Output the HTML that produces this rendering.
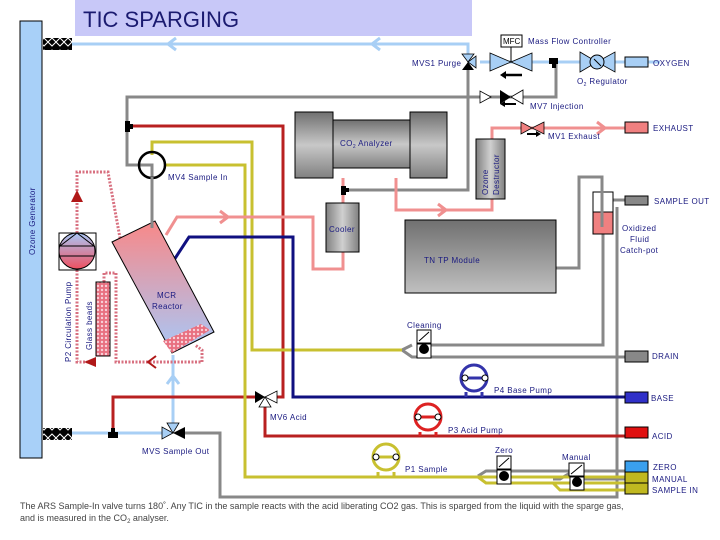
<!DOCTYPE html>
<html><head><meta charset="utf-8"><style>
html,body{margin:0;padding:0;background:#fff;}
svg{display:block;}
text{font-family:"Liberation Sans",sans-serif;}
.l{font-size:8px;fill:#1a1a80;letter-spacing:0.4px;}
</style></head><body>
<svg width="720" height="540" viewBox="0 0 720 540" xmlns="http://www.w3.org/2000/svg">
<defs>
<linearGradient id="gv" x1="0" y1="0" x2="0" y2="1"><stop offset="0" stop-color="#707070"/><stop offset="0.5" stop-color="#c8c8c8"/><stop offset="1" stop-color="#808080"/></linearGradient>
<linearGradient id="gh" x1="0" y1="0" x2="1" y2="0"><stop offset="0" stop-color="#808080"/><stop offset="0.5" stop-color="#d0d0d0"/><stop offset="1" stop-color="#808080"/></linearGradient>
<linearGradient id="gtn" x1="0" y1="0" x2="0" y2="1"><stop offset="0" stop-color="#707070"/><stop offset="1" stop-color="#c0c0c0"/></linearGradient>
<linearGradient id="gr" x1="0" y1="0" x2="0" y2="1"><stop offset="0" stop-color="#f88888"/><stop offset="1" stop-color="#a8c8f8"/></linearGradient>
<linearGradient id="gp" x1="0" y1="0" x2="0" y2="1"><stop offset="0" stop-color="#a8c8f8"/><stop offset="1" stop-color="#f05060"/></linearGradient>
<pattern id="chk" width="4" height="4" patternUnits="userSpaceOnUse"><rect width="4" height="4" fill="#e87080"/><circle cx="2" cy="2" r="1.2" fill="#f8d0d8"/></pattern>
<pattern id="hx" width="8" height="12" patternUnits="userSpaceOnUse"><rect width="8" height="12" fill="#000"/><path d="M0 6 L4 2 L8 6 L4 10 Z" fill="none" stroke="#fff" stroke-width="1"/></pattern>
</defs>

<!-- title -->
<rect x="75" y="0" width="397" height="36" fill="#c8c8f8"/>
<text x="83" y="27" font-size="22" fill="#1a1a70" style="font-size:22px">TIC SPARGING</text>

<!-- ozone generator -->
<rect x="20" y="21" width="22" height="437" fill="#a8d0f8" stroke="#000" stroke-width="1"/>
<text transform="translate(35,255) rotate(-90)" class="l">Ozone Generator</text>
<rect x="43" y="38" width="29" height="12" fill="url(#hx)"/>
<rect x="43" y="428" width="29" height="12" fill="url(#hx)"/>

<!-- light blue lines -->
<g stroke="#a8cff5" stroke-width="3" fill="none">
<polyline points="72,44 468,44 468,58"/>
<line x1="480" y1="62" x2="660" y2="62"/>
<line x1="72" y1="433" x2="165" y2="433"/>
<line x1="173" y1="355" x2="173" y2="426"/>
</g>
<path d="M176 38 L168 44 L176 50 M168 44 L182 44" stroke="#a8cff5" stroke-width="3" fill="none"/>
<path d="M380 38 L372 44 L380 50" stroke="#a8cff5" stroke-width="3" fill="none"/>
<path d="M167 384 L173 376 L179 384" stroke="#a8cff5" stroke-width="3" fill="none"/>

<!-- gray lines -->
<g stroke="#888" stroke-width="3" fill="none">
<polyline points="556,62 556,97 127,97 127,165 152,165 152,228"/>
<polyline points="468,70 468,190 345,190"/>
<polyline points="556,268 579,268 579,177 602,177 602,227"/>
<polyline points="613,200 625,200"/>
<polyline points="603,234 603,345 431,345"/>
<polyline points="617,207 617,497 220,497 220,433 185,433"/>
<polyline points="402,350 412,345"/>
<polyline points="402,350 412,357 625,357"/>
<polyline points="478,476 486,471 625,471"/>
<polyline points="553,479 560,479 570,473"/>
<polyline points="584,479 625,479"/>
</g>

<!-- red lines -->
<g stroke="#b82020" stroke-width="3" fill="none">
<polyline points="130,126 283,126 283,397 275,397"/>
<polyline points="257,397 113,397 113,433"/>
<polyline points="265,404 265,436 625,436"/>
</g>

<!-- yellow lines -->
<g stroke="#c8c030" stroke-width="3" fill="none">
<polyline points="164,165 245,165 245,477 625,477"/>
<polyline points="152,155 152,142 252,142 252,350 402,350"/>
<polyline points="478,477 486,483 625,483"/>
<polyline points="553,483 560,490 625,490"/>
</g>

<!-- navy lines -->
<g stroke="#101080" stroke-width="3" fill="none">
<polyline points="174,260 189,237 293,237 293,397 625,397"/>
</g>

<!-- pink lines -->
<g stroke="#f09090" stroke-width="3" fill="none">
<polyline points="343,178 343,203"/>
<polyline points="343,252 343,269 313,269 313,217 177,217 166,235"/>
<polyline points="396,178 396,210 492,210 492,199"/>
<polyline points="492,139 492,128 625,128"/>
</g>
<path d="M220 211 L228 217 L220 223" stroke="#f09090" stroke-width="3" fill="none"/>
<path d="M438 204 L446 210 L438 216" stroke="#f09090" stroke-width="3" fill="none"/>
<path d="M597 122 L605 128 L597 134" stroke="#f09090" stroke-width="3" fill="none"/>

<!-- CO2 analyzer -->
<rect x="295" y="112" width="38" height="66" fill="url(#gv)" stroke="#000"/>
<rect x="333" y="120" width="77" height="48" fill="url(#gv)" stroke="#000"/>
<rect x="410" y="112" width="37" height="66" fill="url(#gv)" stroke="#000"/>
<text x="340" y="146" class="l">CO<tspan font-size="5" dy="2">2</tspan><tspan dy="-2"> Analyzer</tspan></text>

<!-- cooler -->
<rect x="326" y="203" width="33" height="49" fill="url(#gh)" stroke="#000"/>
<text x="329" y="232" class="l">Cooler</text>
<rect x="341" y="186" width="5" height="9" fill="#000"/><rect x="341" y="188" width="8" height="4" fill="#000"/>

<!-- ozone destructor -->
<rect x="476" y="139" width="29" height="60" fill="url(#gh)" stroke="#000"/>
<text transform="translate(488,195) rotate(-90)" class="l">Ozone</text>
<text transform="translate(499,195) rotate(-90)" class="l">Destructor</text>

<!-- TN TP module -->
<rect x="405" y="220" width="151" height="73" fill="url(#gtn)" stroke="#000"/>
<text x="424" y="263" class="l">TN TP Module</text>

<!-- catch pot -->
<rect x="593" y="192" width="20" height="42" fill="#fff" stroke="#000"/>
<rect x="593" y="212" width="20" height="22" fill="#f08080" stroke="#000"/>
<line x1="602" y1="177" x2="602" y2="227" stroke="#888" stroke-width="3"/>
<text x="622" y="231" class="l">Oxidized</text>
<text x="630" y="242" class="l">Fluid</text>
<text x="620" y="253" class="l">Catch-pot</text>

<!-- right boxes -->
<rect x="625" y="57" width="23" height="10" fill="#a8cff5" stroke="#000"/>
<text x="653" y="66" class="l">OXYGEN</text>
<rect x="625" y="122" width="23" height="11" fill="#f08080" stroke="#000"/>
<text x="653" y="131" class="l">EXHAUST</text>
<rect x="625" y="196" width="23" height="9" fill="#888" stroke="#000"/>
<text x="654" y="204" class="l">SAMPLE OUT</text>
<rect x="625" y="351" width="23" height="11" fill="#888" stroke="#000"/>
<text x="652" y="359" class="l">DRAIN</text>
<rect x="625" y="392" width="23" height="11" fill="#3030c8" stroke="#000"/>
<text x="651" y="401" class="l">BASE</text>
<rect x="625" y="427" width="23" height="11" fill="#e01010" stroke="#000"/>
<text x="652" y="439" class="l">ACID</text>
<rect x="625" y="461" width="23" height="11" fill="#3aa0ee" stroke="#000"/>
<rect x="625" y="472" width="23" height="11" fill="#c0b820" stroke="#000"/>
<rect x="625" y="483" width="23" height="11" fill="#c0b820" stroke="#000"/>
<text x="653" y="470" class="l">ZERO</text>
<text x="652" y="482" class="l">MANUAL</text>
<text x="652" y="493" class="l">SAMPLE IN</text>

<!-- MVS1 valve -->
<path d="M462 54 L474 54 L468 62 Z" fill="#a8cff5" stroke="#000" stroke-width="0.8"/>
<path d="M462 70 L474 70 L468 62 Z" fill="#000"/>
<path d="M476 56 L476 68 L468 62 Z" fill="#a8cff5" stroke="#000" stroke-width="0.8"/>
<text x="412" y="66" class="l">MVS1 Purge</text>

<!-- MFC -->
<rect x="501" y="35" width="21" height="12" fill="#fff" stroke="#000"/>
<text x="503" y="44" style="font-size:8px" fill="#000">MFC</text>
<line x1="511" y1="47" x2="511" y2="62" stroke="#000"/>
<path d="M490 53 L490 71 L511 62 Z M532 53 L532 71 L511 62 Z" fill="#a8cff5" stroke="#000" stroke-width="0.8"/>
<path d="M502 75 L522 75" stroke="#000" stroke-width="2.5"/><path d="M500 75 L506 71 L506 79 Z" fill="#000"/>
<text x="528" y="44" class="l">Mass Flow Controller</text>
<rect x="549" y="58" width="9" height="6" fill="#000"/><rect x="552" y="58" width="4" height="10" fill="#000"/>

<!-- O2 regulator -->
<path d="M580 52 L580 72 L597 62 Z M615 52 L615 72 L597 62 Z" fill="#a8cff5" stroke="#000" stroke-width="0.8"/>
<circle cx="597" cy="62" r="7" fill="#a8cff5" stroke="#000"/>
<line x1="594" y1="59" x2="601" y2="66" stroke="#000"/>
<text x="577" y="84" class="l">O<tspan font-size="5" dy="2">2</tspan><tspan dy="-2"> Regulator</tspan></text>

<!-- MV7 -->
<path d="M480 91 L480 103 L491 97 Z" fill="#fff" stroke="#000" stroke-width="0.8"/>
<path d="M500 90 L500 104 L511 97 Z" fill="#000"/>
<path d="M523 90 L523 104 L511 97 Z" fill="#fff" stroke="#000" stroke-width="0.8"/>
<path d="M502 104 L516 104" stroke="#000" stroke-width="2"/><path d="M500 104 L505 101 L505 107 Z" fill="#000"/>
<text x="530" y="109" class="l">MV7 Injection</text>

<!-- MV1 exhaust -->
<path d="M521 122 L521 134 L532 128 Z M544 122 L544 134 L532 128 Z" fill="#f08080" stroke="#000" stroke-width="0.8"/>
<path d="M527 134 L538 134" stroke="#000" stroke-width="2"/><path d="M541 134 L536 131 L536 137 Z" fill="#000"/>
<text x="548" y="139" class="l">MV1 Exhaust</text>

<!-- tee at 127 -->
<rect x="125" y="121" width="5" height="11" fill="#000"/><rect x="125" y="124" width="8" height="5" fill="#000"/>

<!-- MV4 circle -->
<circle cx="152" cy="165" r="13" fill="none" stroke="#000" stroke-width="2.5"/>
<text x="168" y="180" class="l">MV4 Sample In</text>

<!-- pink hatched loop -->
<g stroke="#d87080" stroke-width="3" fill="none" stroke-dasharray="2,1.5">
<polyline points="77,233 77,172 108,172 120,238"/>
<polyline points="77,270 77,362 96,362"/>
<polyline points="104,282 104,273 116,273 116,362 202,362 202,350 195,345"/>
</g>
<path d="M71 202 L77 190 L83 202 Z" fill="#b01818"/>
<path d="M96 357 L84 362 L96 367 Z" fill="#b01818"/>
<path d="M156 356 L148 362 L156 368" stroke="#b01818" stroke-width="2" fill="none"/>

<!-- reactor -->
<polygon points="112,242 155,221 214,332 172,353" fill="url(#gr)" stroke="#000"/>
<polygon points="163,341 201,324 210,330 172,353" fill="url(#chk)"/>
<line x1="152" y1="177" x2="152" y2="228" stroke="#888" stroke-width="3"/>
<text x="157" y="298" class="l">MCR</text>
<text x="152" y="309" class="l">Reactor</text>

<!-- glass beads + pump -->
<rect x="96" y="282" width="14" height="74" fill="url(#chk)" stroke="#000"/>
<text transform="translate(92,350) rotate(-90)" class="l">Glass beads</text>
<rect x="59" y="233" width="37" height="37" fill="#fff" stroke="#000"/>
<circle cx="77" cy="251" r="18" fill="url(#gp)" stroke="#000"/>
<path d="M60 246 L77 233 L94 246 Z" fill="none" stroke="#000"/>
<line x1="60" y1="256" x2="94" y2="256" stroke="#000"/>
<text transform="translate(71,362) rotate(-90)" class="l">P2 Circulation Pump</text>

<!-- MV6 Acid -->
<path d="M255 391 L255 403 L265 397 Z" fill="#000"/>
<path d="M277 391 L277 403 L265 397 Z" fill="#fff" stroke="#000" stroke-width="0.8"/>
<path d="M259 407 L271 407 L265 397 Z" fill="#fff" stroke="#000" stroke-width="0.8"/>
<text x="270" y="420" class="l">MV6 Acid</text>

<!-- MVS5 -->
<path d="M162 427 L162 439 L173 433 Z" fill="#a8cff5" stroke="#000" stroke-width="0.8"/>
<path d="M185 427 L185 439 L173 433 Z" fill="#000"/>
<path d="M167 423 L179 423 L173 433 Z" fill="#a8cff5" stroke="#000" stroke-width="0.8"/>
<text x="142" y="454" class="l">MVS Sample Out</text>
<rect x="108" y="432" width="10" height="6" fill="#000"/><rect x="111" y="428" width="4" height="8" fill="#000"/>

<!-- cleaning valve -->
<rect x="417" y="330" width="14" height="13" fill="#fff" stroke="#000"/><line x1="419" y1="341" x2="429" y2="332" stroke="#000"/>
<rect x="417" y="344" width="14" height="14" fill="#fff" stroke="#000"/><circle cx="424" cy="349" r="5" fill="#000"/>
<text x="407" y="328" class="l">Cleaning</text>

<!-- pumps -->
<path d="M466 392 L466 397 M482 392 L482 397" stroke="#3333aa" stroke-width="3"/>
<circle cx="474" cy="378" r="13" fill="none" stroke="#3333aa" stroke-width="3"/>
<line x1="465" y1="378" x2="484" y2="378" stroke="#3333aa" stroke-width="3"/>
<circle cx="465" cy="378" r="3" fill="#fff" stroke="#000"/><circle cx="485" cy="378" r="3" fill="#fff" stroke="#000"/>
<text x="494" y="393" class="l">P4 Base Pump</text>

<path d="M420 432 L420 436 M436 432 L436 436" stroke="#dd2222" stroke-width="3"/>
<circle cx="428" cy="417" r="13" fill="none" stroke="#dd2222" stroke-width="3"/>
<line x1="419" y1="417" x2="438" y2="417" stroke="#dd2222" stroke-width="3"/>
<circle cx="418" cy="417" r="3" fill="#fff" stroke="#000"/><circle cx="438" cy="417" r="3" fill="#fff" stroke="#000"/>
<text x="448" y="433" class="l">P3 Acid Pump</text>

<path d="M378 472 L378 477 M394 472 L394 477" stroke="#c8c030" stroke-width="3"/>
<circle cx="386" cy="457" r="13" fill="none" stroke="#c8c030" stroke-width="3"/>
<line x1="377" y1="457" x2="396" y2="457" stroke="#c8c030" stroke-width="3"/>
<circle cx="376" cy="457" r="3" fill="#fff" stroke="#000"/><circle cx="396" cy="457" r="3" fill="#fff" stroke="#000"/>
<text x="405" y="472" class="l">P1 Sample</text>

<!-- zero/manual valves -->
<rect x="497" y="456" width="14" height="13" fill="#fff" stroke="#000"/><line x1="499" y1="467" x2="509" y2="458" stroke="#000"/>
<rect x="497" y="470" width="14" height="14" fill="#fff" stroke="#000"/><circle cx="504" cy="476" r="5" fill="#000"/>
<text x="495" y="453" class="l">Zero</text>
<rect x="569" y="463" width="15" height="13" fill="#fff" stroke="#000"/><line x1="571" y1="474" x2="582" y2="465" stroke="#000"/>
<rect x="570" y="477" width="14" height="13" fill="#fff" stroke="#000"/><circle cx="577" cy="482" r="5" fill="#000"/>
<text x="562" y="460" class="l">Manual</text>

<!-- caption -->
<text x="20" y="509" style="font-size:9px" fill="#444">The ARS Sample-In valve turns 180˚. Any TIC in the sample reacts with the acid liberating CO2 gas. This is sparged from the liquid with the sparge gas,</text>
<text x="20" y="521" style="font-size:9px" fill="#444">and is measured in the CO<tspan font-size="6" dy="2">2</tspan><tspan dy="-2"> analyser.</tspan></text>
</svg>
</body></html>
